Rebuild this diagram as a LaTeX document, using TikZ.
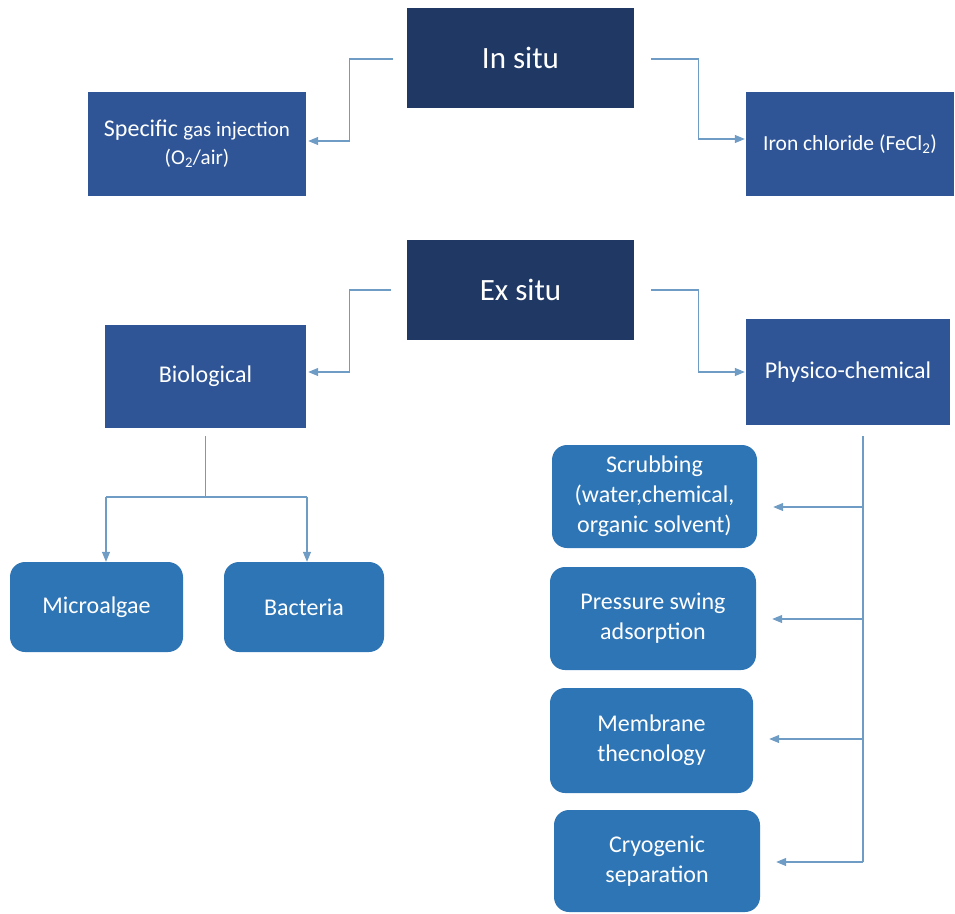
\documentclass[tikz,border=0pt]{standalone}
\usepackage{fontspec}
\setmainfont{Carlito}
\usepackage{xcolor}
\usepackage{tikz}
\usetikzlibrary{arrows.meta,positioning,calc}
\definecolor{navybox}{HTML}{203864}
\definecolor{midbox}{HTML}{2F5597}
\definecolor{roundbox}{HTML}{2E75B6}
\definecolor{linecol}{HTML}{6F9CC4}

\begin{document}
\begin{tikzpicture}[x=1pt, y=-1pt,
  topbox/.style={fill=navybox, text=white, inner sep=0pt, minimum width=227pt,
                 minimum height=100pt, font=\fontsize{31}{37}\selectfont},
  sqbox/.style={fill=midbox, text=white, inner sep=0pt, align=center,
                font=\fontsize{24}{30}\selectfont},
  rbox/.style={fill=roundbox, text=white, inner sep=0pt, align=center, rounded corners=15pt,
               font=\fontsize{24}{30}\selectfont},
  conn/.style={draw=linecol, line width=1.1pt},
  arrow/.style={conn, -{Triangle[length=10pt, width=8pt]}}
]
\useasboundingbox (0,0) rectangle (955,913);

% top level
\node[topbox] (insitu) at (520.5,58) {In situ};
\node[topbox] (exsitu) at (520.5,290) {Ex situ};

% in situ branches
\node[sqbox, minimum width=218pt, minimum height=104pt] (gas) at (197,144)
  {Specific {\fontsize{21}{28}\selectfont gas injection}\\[-2pt]
   {\fontsize{21}{28}\selectfont (O\textsubscript{2}/air)}};
\node[sqbox, minimum width=208pt, minimum height=104pt, font=\fontsize{21.5}{26}\selectfont] (iron) at (850,144)
  {Iron chloride (FeCl\textsubscript{2})};

% ex situ branches
\node[sqbox, minimum width=201pt, minimum height=103pt] (bio) at (205.5,376.5) {Biological};
\node[sqbox, minimum width=204pt, minimum height=106pt] (phys) at (848,372) {Physico-chemical};

\node[rbox, minimum width=173pt, minimum height=90pt] (micro) at (96.5,607) {Microalgae};
\node[rbox, minimum width=160pt, minimum height=90pt] (bact) at (304,607) {Bacteria};

\node[rbox, minimum width=205pt, minimum height=103pt] (scrub) at (654.5,496.5)
  {Scrubbing\\(water,chemical,\\organic solvent)};
\node[rbox, minimum width=206pt, minimum height=103pt] (press) at (653,618.5)
  {Pressure swing\\adsorption};
\node[rbox, minimum width=203pt, minimum height=105pt] (memb) at (651.5,740.5)
  {Membrane\\thecnology};
\node[rbox, minimum width=206pt, minimum height=102pt] (cryo) at (657,861)
  {Cryogenic\\separation};

% elbow connectors
\draw[arrow] ([xshift=-14pt, yshift=-1pt]insitu.west) -- ++(-43,0) |- ([xshift=2pt, yshift=3pt]gas.east);
\draw[arrow] ([xshift=17pt, yshift=-1pt]insitu.east) -- ++(47,0) |- ([xshift=-1pt, yshift=5pt]iron.west);
\draw[arrow] ([xshift=-16pt]exsitu.west) -- ++(-41,0) |- ([xshift=2pt, yshift=4.5pt]bio.east);
\draw[arrow] ([xshift=17pt]exsitu.east) -- ++(47,0) |- ([xshift=-1pt]phys.west);

% biological fork
\coordinate (forkL) at (106,497);
\coordinate (forkR) at (307,497);
\draw[conn] ([yshift=-8pt]bio.south) -- (bio.south |- forkL);
\draw[conn] (forkL) -- (forkR);
\draw[arrow] (forkL) -- (forkL |- micro.north);
\draw[arrow] (forkR) -- (forkR |- bact.north);

% physico-chemical bus
\coordinate (stemtop) at (863,436);
\coordinate (stembot) at (863,862);
\draw[conn] (stemtop) -- (stembot);
\foreach \b/\yy in {scrub/507, press/619, memb/739, cryo/862}
  \draw[arrow] (stemtop |- 0,\yy) -- ($(\b.east |- 0,\yy)+(16,0)$);
\end{tikzpicture}
\end{document}
